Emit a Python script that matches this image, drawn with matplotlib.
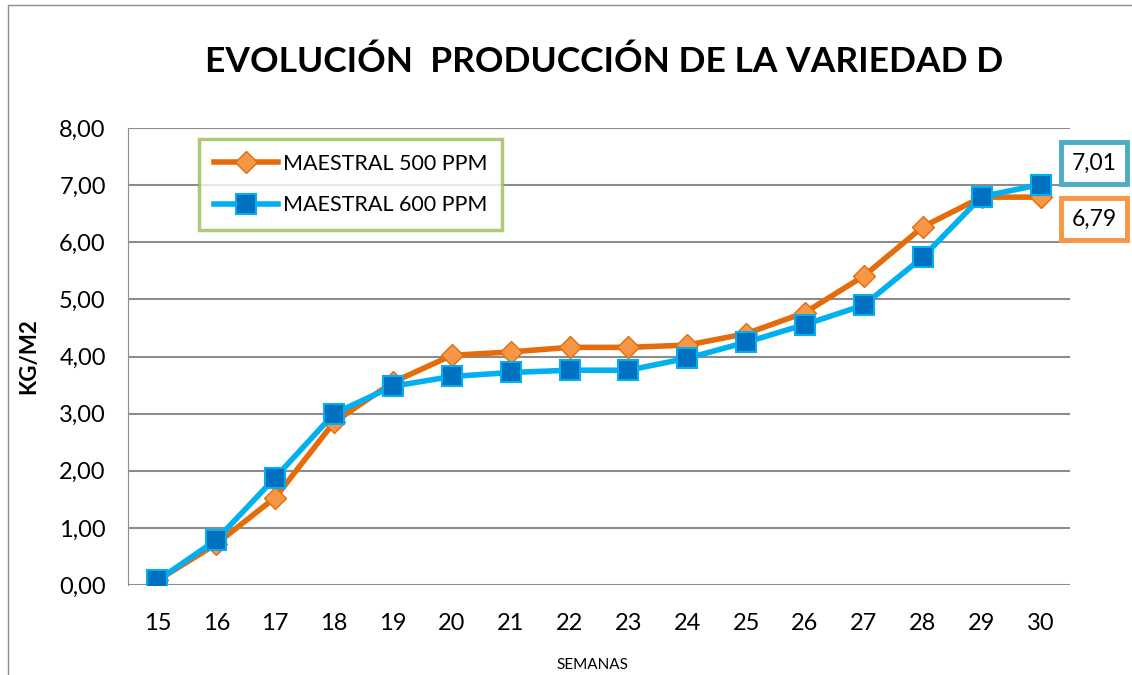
import matplotlib.pyplot as plt
from matplotlib.patches import Rectangle

semanas = [15, 16, 17, 18, 19, 20, 21, 22, 23, 24, 25, 26, 27, 28, 29, 30]
ppm500 = [0.08, 0.72, 1.53, 2.85, 3.55, 4.02, 4.08, 4.16, 4.16, 4.20, 4.40, 4.77, 5.41, 6.27, 6.79, 6.79]
ppm600 = [0.08, 0.79, 1.88, 3.00, 3.48, 3.65, 3.72, 3.76, 3.76, 3.97, 4.25, 4.56, 4.90, 5.74, 6.80, 7.01]
yticks = [0, 1, 2, 3, 4, 5, 6, 7, 8]

plt.rcParams['font.family'] = ['Lato', 'DejaVu Sans']

fig = plt.figure(figsize=(11.32, 6.75), dpi=100)
ax = fig.add_axes([128 / 1132, 1 - 585 / 675, (1070 - 128) / 1132, (585 - 128) / 675])

# outer chart frame
fig.patches.append(Rectangle((8 / 1132, -0.01), 1.1, 1 - 5 / 675 + 0.01,
                             transform=fig.transFigure, fill=False,
                             edgecolor='#8c8c8c', linewidth=1))

x = list(range(len(semanas)))
ax.plot(x, ppm500, color='#E46C0A', linewidth=4, marker='D', markersize=11,
        markerfacecolor='#F79646', markeredgecolor='#E46C0A', markeredgewidth=1,
        label='MAESTRAL 500 PPM', zorder=3)
ax.plot(x, ppm600, color='#00B0F0', linewidth=4, marker='s', markersize=14,
        markerfacecolor='#0070C0', markeredgecolor='#00B0F0', markeredgewidth=1.5,
        label='MAESTRAL 600 PPM', zorder=4)

ax.set_xlim(-0.5, len(semanas) - 0.5)
ax.set_ylim(0, 8)
ax.set_xticks(x)
ax.set_xticklabels([str(s) for s in semanas])
ax.set_yticks(yticks)
ax.set_yticklabels([f"{v:.2f}".replace('.', ',') for v in yticks])
ax.tick_params(axis='both', length=0, labelsize=17)
ax.tick_params(axis='x', pad=20)
ax.tick_params(axis='y', pad=16)
ax.grid(axis='y', color='#8c8c8c', linewidth=1.5)
ax.set_axisbelow(True)
for side in ['top', 'right', 'bottom']:
    ax.spines[side].set_visible(False)
ax.spines['left'].set_color('#8c8c8c')

ax.set_ylabel('KG/M2', fontsize=16, fontweight='bold', labelpad=14)
fig.text(592 / 1132, 1 - 665 / 675, 'SEMANAS', ha='center', va='center', fontsize=11)

fig.text(0.534, 0.908, 'EVOLUCIÓN  PRODUCCIÓN DE LA VARIEDAD D', ha='center', va='center',
         fontsize=25.5, fontweight='bold')

leg = ax.legend(loc='upper left', bbox_to_anchor=((188 - 128) / 942, 1.0),
                fontsize=15.5, frameon=True, fancybox=False, handlelength=3,
                borderpad=0.7, labelspacing=1.0, handletextpad=0.2)
leg.get_frame().set_edgecolor('#9BBB59')
leg.get_frame().set_linewidth(2.5)

# end data labels
fig.text(1094 / 1132, 1 - 163 / 675, f"{ppm600[-1]:.2f}".replace('.', ','),
         ha='center', va='center', fontsize=16.5,
         bbox=dict(boxstyle='square,pad=0.45', facecolor='white', edgecolor='#4BACC6', linewidth=3.5))
fig.text(1094 / 1132, 1 - 219 / 675, f"{ppm500[-1]:.2f}".replace('.', ','),
         ha='center', va='center', fontsize=16.5,
         bbox=dict(boxstyle='square,pad=0.45', facecolor='white', edgecolor='#F79646', linewidth=3.5))

fig.savefig('out.png', dpi=100)
